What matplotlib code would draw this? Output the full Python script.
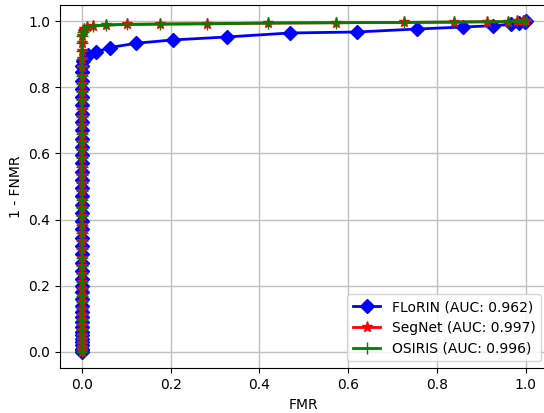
import numpy as np
import matplotlib
matplotlib.use("Agg")
import matplotlib.pyplot as plt

# ROC points (FMR, 1 - FNMR)
florin_col = [0.0, 0.005, 0.01, 0.02, 0.03, 0.04, 0.05, 0.06, 0.075, 0.09, 0.105,
              0.12, 0.14, 0.16, 0.18, 0.2, 0.22, 0.245, 0.27, 0.295, 0.32, 0.345,
              0.37, 0.395, 0.42, 0.445, 0.47, 0.495, 0.52, 0.545, 0.57, 0.595,
              0.62, 0.645, 0.67, 0.695, 0.72, 0.745, 0.77, 0.795, 0.82, 0.845]
florin_fmr = [0.0] * len(florin_col) + [0.001, 0.003, 0.006, 0.014, 0.032, 0.063,
              0.122, 0.205, 0.327, 0.468, 0.619, 0.755, 0.858, 0.926, 0.968, 0.986, 0.998, 1.0]
florin_tpr = florin_col + [0.865, 0.878, 0.888, 0.897, 0.907, 0.92,
              0.933, 0.943, 0.952, 0.964, 0.967, 0.976, 0.982, 0.986, 0.99, 0.993, 0.997, 1.0]

seg_col = [0.0, 0.008, 0.016, 0.026, 0.038, 0.05, 0.065, 0.08, 0.095, 0.11, 0.13,
           0.15, 0.17, 0.19, 0.21, 0.235, 0.26, 0.285, 0.31, 0.335, 0.36, 0.385,
           0.41, 0.435, 0.46, 0.485, 0.51, 0.535, 0.56, 0.585, 0.61, 0.635, 0.66,
           0.685, 0.71, 0.735, 0.76, 0.785, 0.81, 0.835, 0.86, 0.885, 0.91, 0.935, 0.955]
segnet_fmr = [0.0] * len(seg_col) + [0.002, 0.005, 0.011, 0.025, 0.054, 0.101, 0.176,
              0.281, 0.419, 0.572, 0.725, 0.838, 0.914, 0.96, 0.98, 0.993, 1.0]
segnet_tpr = seg_col + [0.968, 0.977, 0.983, 0.986, 0.988, 0.99, 0.991,
              0.992, 0.994, 0.995, 0.996, 0.997, 0.998, 0.998, 0.999, 0.999, 1.0]

osiris_fmr = segnet_fmr
osiris_tpr = segnet_tpr

fig = plt.figure(figsize=(5.44, 4.13), dpi=100)
ax = fig.add_axes([0.110, 0.108, 0.897, 0.881])

ax.plot(florin_fmr, florin_tpr, color='blue', marker='D', markersize=7,
        linewidth=2, label='FLoRIN (AUC: 0.962)')
ax.plot(segnet_fmr, segnet_tpr, color='red', marker='*', markersize=8,
        linewidth=2, label='SegNet (AUC: 0.997)')
ax.plot(osiris_fmr, osiris_tpr, color='green', marker='+', markersize=8,
        linewidth=2, label='OSIRIS (AUC: 0.996)')

ax.set_xlim(-0.05, 1.05)
ax.set_ylim(-0.05, 1.05)
ax.set_xticks(np.arange(0, 1.01, 0.2))
ax.set_yticks(np.arange(0, 1.01, 0.2))
ax.grid(True, color='#c0c0c0', linewidth=1)
ax.set_axisbelow(True)
ax.set_xlabel('FMR')
ax.set_ylabel('1 - FNMR')
ax.legend(loc='lower right')

fig.savefig('out.png', dpi=100)
